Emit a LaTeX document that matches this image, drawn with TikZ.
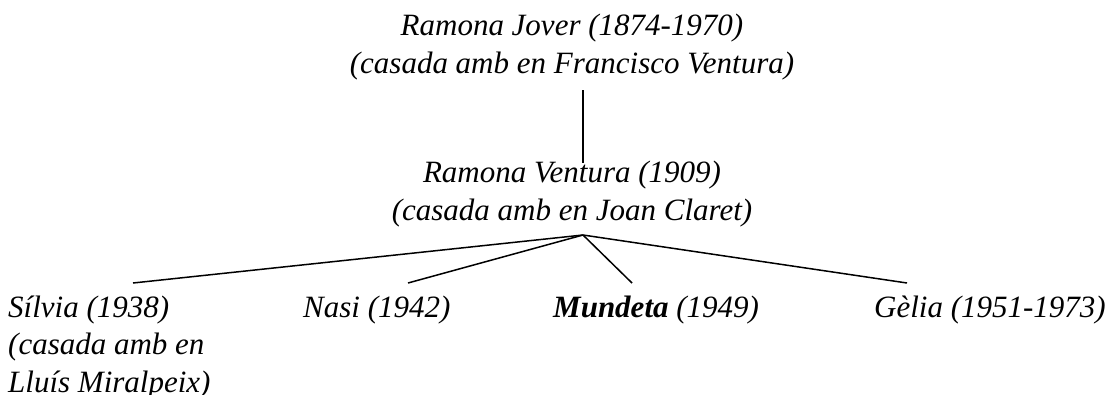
\documentclass[tikz,border=0pt]{standalone}
\usepackage{fontspec}
\setmainfont{Liberation Serif}
\begin{document}
\begin{tikzpicture}[x=1pt,y=-1pt,
  every node/.style={inner sep=0pt, font=\fontsize{31}{37.5}\selectfont\itshape},
  person/.style={align=center},
  leftperson/.style={align=left},
  link/.style={line width=1.5pt}]
\useasboundingbox[fill=white] (0,0) rectangle (1110,394);
\node[person, anchor=base] (rj) at (572,73) {Ramona Jover (1874-1970)\\(casada amb en Francisco Ventura)};
\node[person, anchor=base] (rv) at (572,220) {Ramona Ventura (1909)\\(casada amb en Joan Claret)};
\node[leftperson, anchor=base west] (sil) at (8,392) {Sílvia (1938)\\(casada amb en\\Lluís Miralpeix)};
\node[anchor=base west] (nas) at (303,317) {Nasi (1942)};
\node[anchor=base west] (mun) at (553,317) {\textbf{Mundeta} (1949)};
\node[anchor=base west] (gel) at (874,317) {Gèlia (1951-1973)};
\coordinate (t1) at (583,90);
\coordinate (t2) at (583,163);
\coordinate (j) at (583,235);
\coordinate (s1) at (133,283);
\coordinate (n1) at (408,283);
\coordinate (m1) at (632,283);
\coordinate (g1) at (907,283);
\draw[link] (t1) -- (t2);
\draw[link] (j) -- (s1);
\draw[link] (j) -- (n1);
\draw[link] (j) -- (m1);
\draw[link] (j) -- (g1);
\end{tikzpicture}
\end{document}
